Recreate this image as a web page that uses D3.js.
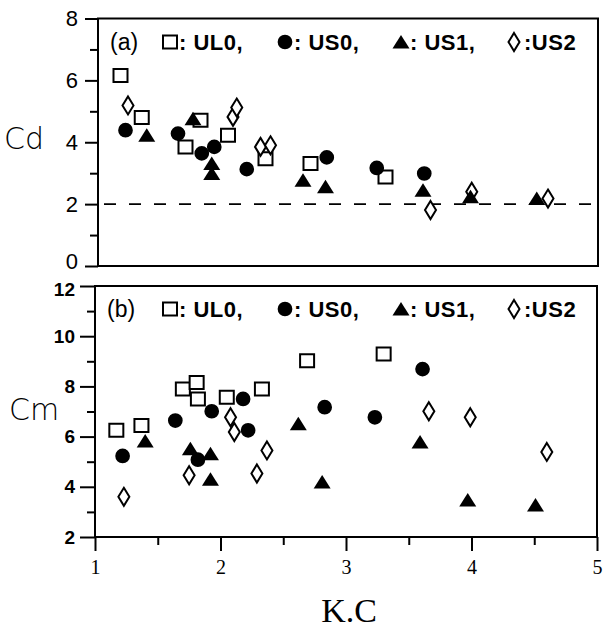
<!DOCTYPE html>
<html>
<head>
<meta charset="utf-8">
<script src="https://d3js.org/d3.v7.min.js"></script>
<style>
  body { margin: 0; background: #fff; }
  svg { display: block; }
</style>
</head>
<body>
<div id="chart"></div>
<script>
// panel (a): Cd against K.C
const cdUL0 = [[1.18, 6.16], [1.35, 4.80], [1.82, 4.71], [1.70, 3.85], [2.04, 4.23], [2.34, 3.47], [2.70, 3.31], [3.30, 2.88]];
const cdUS0 = [[1.22, 4.39], [1.64, 4.28], [1.83, 3.64], [1.93, 3.85], [2.19, 3.13], [2.83, 3.51], [3.23, 3.17], [3.61, 2.99]];
const cdUS1 = [[1.39, 4.23], [1.76, 4.76], [1.91, 3.31], [1.91, 2.99], [2.64, 2.77], [2.82, 2.56], [3.60, 2.45], [3.98, 2.24], [4.51, 2.18]];
const cdUS2 = [[1.24, 5.19], [2.08, 4.82], [2.11, 5.12], [2.30, 3.85], [2.38, 3.90], [3.66, 1.81], [3.99, 2.40], [4.60, 2.18]];
const cdRef = 2;

// panel (b): Cm against K.C
const cmUL0 = [[1.17, 6.25], [1.37, 6.44], [1.70, 7.90], [1.81, 8.16], [1.82, 7.50], [2.05, 7.57], [2.33, 7.90], [2.69, 9.02], [3.30, 9.29]];
const cmUS0 = [[1.22, 5.23], [1.64, 6.64], [1.93, 7.01], [2.18, 7.50], [2.22, 6.25], [1.82, 5.08], [2.83, 7.17], [3.23, 6.77], [3.61, 8.69]];
const cmUS1 = [[1.40, 5.82], [1.76, 5.52], [1.92, 5.32], [1.92, 4.30], [2.62, 6.51], [2.81, 4.19], [3.59, 5.78], [3.97, 3.47], [4.51, 3.27]];
const cmUS2 = [[1.23, 3.60], [1.75, 4.46], [2.08, 6.77], [2.11, 6.18], [2.29, 4.53], [2.37, 5.45], [3.66, 7.01], [3.99, 6.77], [4.60, 5.39]];

const xTicks = [1, 2, 3, 4, 5];
const xMinor = [1.5, 2.5, 3.5, 4.5];
const cdTicks = [0, 2, 4, 6, 8];
const cdMinor = [1, 3, 5, 7];
const cmTicks = [2, 4, 6, 8, 10, 12];
const cmMinor = [3, 5, 7, 9, 11];

const width = 603, height = 631;
const svg = d3.select("#chart").append("svg")
  .attr("width", width)
  .attr("height", height);

// symbol paths, centered on 0,0
const shapes = {
  square: "M-7,-6.5H7V6.5H-7Z",
  circle: d3.symbol(d3.symbolCircle, 170)(),
  triangle: "M0,-7L8.5,6.5H-8.5Z",
  diamond: "M0,-9L5.5,0L0,9L-5.5,0Z"
};
const style = {
  square: { fill: "#fff", stroke: "#000" },
  circle: { fill: "#000", stroke: "none" },
  triangle: { fill: "#000", stroke: "none" },
  diamond: { fill: "#fff", stroke: "#000" }
};

function drawPanel(cfg) {
  const x = d3.scaleLinear().domain([1, 5]).range(cfg.xr);
  const y = d3.scaleLinear().domain(cfg.yd).range(cfg.yr);
  const g = svg.append("g");

  // y axis, major + minor ticks
  const ya = g.append("g")
    .attr("transform", `translate(${cfg.xr[0]},0)`)
    .call(d3.axisLeft(y).tickValues(cfg.yTicks).tickSize(cfg.yTickLen).tickSizeOuter(0).tickPadding(cfg.yPad));
  ya.select(".domain").remove();
  ya.selectAll("line").attr("stroke-width", 2);
  ya.selectAll("text")
    .attr("font-family", "Liberation Sans, Arial, sans-serif")
    .attr("font-size", cfg.yFont)
    .attr("font-weight", cfg.yWeight)
    .attr("fill", "#000");
  // nudge the label that meets the other panel
  ya.selectAll("text").filter(d => d === cfg.edgeTick).attr("dy", cfg.edgeDy);

  const ym = g.append("g")
    .attr("transform", `translate(${cfg.xr[0]},0)`)
    .call(d3.axisLeft(y).tickValues(cfg.yMinor).tickSize(8).tickSizeOuter(0).tickFormat(""));
  ym.select(".domain").remove();
  ym.selectAll("line").attr("stroke-width", 2);

  if (cfg.xAxis) {
    const xa = g.append("g")
      .attr("transform", `translate(0,${cfg.yr[0]})`)
      .call(d3.axisBottom(x).tickValues(xTicks).tickFormat(d3.format("d"))
        .tickSize(14).tickSizeOuter(0).tickPadding(9));
    xa.select(".domain").remove();
    xa.selectAll("line").attr("stroke-width", 2);
    xa.selectAll("text")
      .attr("font-family", "Liberation Serif, Times New Roman, serif")
      .attr("font-size", 20)
      .attr("fill", "#000");
    const xm = g.append("g")
      .attr("transform", `translate(0,${cfg.yr[0]})`)
      .call(d3.axisBottom(x).tickValues(xMinor).tickSize(8).tickSizeOuter(0).tickFormat(""));
    xm.select(".domain").remove();
    xm.selectAll("line").attr("stroke-width", 2);
  }

  // frame
  g.append("rect")
    .attr("x", cfg.xr[0]).attr("y", cfg.yr[1])
    .attr("width", cfg.xr[1] - cfg.xr[0])
    .attr("height", cfg.yr[0] - cfg.yr[1])
    .attr("fill", "none")
    .attr("stroke", "#000")
    .attr("stroke-width", 2);

  if (cfg.refLine != null) {
    g.append("line")
      .attr("x1", cfg.xr[0] + 6).attr("x2", cfg.xr[1])
      .attr("y1", y(cfg.refLine)).attr("y2", y(cfg.refLine))
      .attr("stroke", "#000")
      .attr("stroke-width", 1.6)
      .attr("stroke-dasharray", "12,13");
  }

  // markers
  cfg.series.forEach(s => {
    g.append("g").selectAll("path")
      .data(s.data)
      .enter().append("path")
      .attr("d", shapes[s.shape])
      .attr("transform", d => `translate(${x(d[0])},${y(d[1])})`)
      .attr("fill", style[s.shape].fill)
      .attr("stroke", style[s.shape].stroke)
      .attr("stroke-width", 2);
  });

  // legend line inside the panel
  const by = cfg.legendY;
  const lg = g.append("g");
  lg.append("text")
    .attr("x", cfg.xr[0] + 12).attr("y", by)
    .attr("font-family", "Liberation Sans, Arial, sans-serif")
    .attr("font-size", 23)
    .text(cfg.tag);
  const items = [
    { shape: "square", sx: 170, label: ": UL0,", lx: 179 },
    { shape: "circle", sx: 285, label: ": US0,", lx: 294 },
    { shape: "triangle", sx: 401, label: ": US1,", lx: 410 },
    { shape: "diamond", sx: 514, label: ":US2", lx: 524 }
  ];
  items.forEach(it => {
    lg.append("path")
      .attr("d", shapes[it.shape])
      .attr("transform", `translate(${it.sx},${by - 8})`)
      .attr("fill", style[it.shape].fill)
      .attr("stroke", style[it.shape].stroke)
      .attr("stroke-width", 2);
    lg.append("text")
      .attr("x", it.lx).attr("y", by)
      .attr("font-family", "Liberation Sans, Arial, sans-serif")
      .attr("font-weight", "bold")
      .attr("font-size", 22)
      .attr("letter-spacing", 0.5)
      .text(it.label);
  });

  // y label
  g.append("text")
    .attr("x", cfg.yLabelX).attr("y", cfg.yLabelY)
    .attr("font-family", "DejaVu Sans, Liberation Sans, sans-serif")
    .attr("font-weight", 300)
    .attr("font-size", 30)
    .attr("fill", "#000")
    .text(cfg.yLabel);
}

drawPanel({
  xr: [98, 598], yr: [266, 18.5], yd: [0, 8],
  yTicks: cdTicks, yMinor: cdMinor, yTickLen: 13, yPad: 7, yFont: 22, yWeight: "normal",
  edgeTick: 0, edgeDy: "0.12em",
  xAxis: false, refLine: cdRef,
  series: [
    { shape: "square", data: cdUL0 },
    { shape: "diamond", data: cdUS2 },
    { shape: "circle", data: cdUS0 },
    { shape: "triangle", data: cdUS1 }
  ],
  tag: "(a)", legendY: 50,
  yLabel: "Cd", yLabelX: 4, yLabelY: 149
});

drawPanel({
  xr: [95, 597], yr: [537, 286], yd: [2, 12],
  yTicks: cmTicks, yMinor: cmMinor, yTickLen: 15, yPad: 5, yFont: 19, yWeight: "bold",
  edgeTick: 12, edgeDy: "0.5em",
  xAxis: true, refLine: null,
  series: [
    { shape: "square", data: cmUL0 },
    { shape: "diamond", data: cmUS2 },
    { shape: "circle", data: cmUS0 },
    { shape: "triangle", data: cmUS1 }
  ],
  tag: "(b)", legendY: 317,
  yLabel: "Cm", yLabelX: 9, yLabelY: 420
});

// x axis title
svg.append("text")
  .attr("x", 349).attr("y", 622)
  .attr("text-anchor", "middle")
  .attr("font-family", "Liberation Serif, Times New Roman, serif")
  .attr("font-size", 34)
  .text("K.C");
</script>
</body>
</html>
